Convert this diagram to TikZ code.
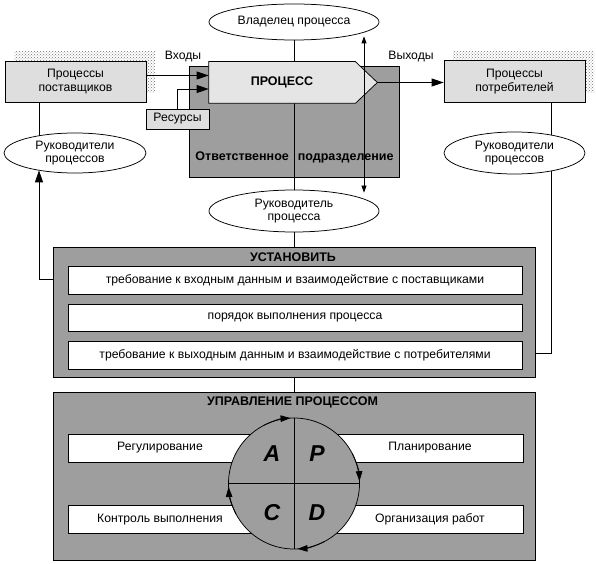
\documentclass[tikz,border=0pt]{standalone}
\usepackage{fontspec}
\setmainfont{Liberation Sans}
\usetikzlibrary{arrows.meta,calc,positioning,shapes.geometric,patterns}

\begin{document}
\begin{tikzpicture}[x=1pt,y=1pt,font=\fontsize{12.2}{13.5}\selectfont,line width=0.75pt]
\tikzset{
  svet/.style={draw=black,fill=black!13,inner sep=0pt,align=center},
  tyom/.style={draw=black,fill=black!38,inner sep=0pt},
  elips/.style={draw=black,fill=white,ellipse,inner sep=0pt,align=center},
  stroka/.style={draw=black,fill=white,inner sep=0pt,minimum height=27.5pt},
  ten/.style={pattern=crosshatch dots,pattern color=black!55},
  fl/.style={-{Triangle[length=12pt,width=8pt]}},
  fls/.style={-{Triangle[length=10pt,width=6.5pt]}},
  zag/.style={font=\fontsize{12.5}{14}\selectfont\bfseries},
  bukva/.style={font=\fontsize{23}{23}\selectfont\bfseries\itshape}
}
\useasboundingbox (0,0) rectangle (596,563);
% тени
\fill[ten] (14,470) rectangle (155,511);
\fill[ten] (453,470) rectangle (594,511);
% верхний уровень
\node[tyom,minimum width=210pt,minimum height=111pt] (podr) at (294,441.5) {};
\node[zag] (podrt) at (294.5,406) {Ответственное\hspace{9pt}подразделение};
\node[elips,minimum width=170pt,minimum height=36pt] (vlad) at (294,541) {Владелец процесса};
\node[elips,minimum width=170pt,minimum height=42pt] (ruk) at (294,352) {Руководитель\\процесса};
\draw (vlad) -- (ruk);
\node[minimum width=168pt,minimum height=41pt,inner sep=0pt] (proc) at (293,480.5) {};
\draw[fill=black!10] (proc.north west) -- ([xshift=-22pt]proc.north east) -- (proc.east)
  -- ([xshift=-22pt]proc.south east) -- (proc.south west) -- cycle;
\node[zag] (proct) at ($(proc)+(-11,0)$) {ПРОЦЕСС};
\draw[{Triangle[length=7pt,width=5pt]}-{Triangle[length=7pt,width=5pt]}]
  ([xshift=70pt,yshift=4pt]vlad.south) -- ([xshift=70pt,yshift=-3pt]ruk.north);
\node[svet,minimum width=141pt,minimum height=41pt] (post) at (75.5,481.5) {Процессы\\поставщиков};
\node[svet,minimum width=141pt,minimum height=42pt] (potr) at (514.5,481.5) {Процессы\\потребителей};
\node[svet,minimum width=63pt,minimum height=20pt] (res) at (177.5,444) {Ресурсы};
\node (vhody) at (183,506) {Входы};
\node (vyhody) at (411,506) {Выходы};
\draw[fl] ([yshift=6pt]post.east) -- ([yshift=6pt]post.east -| proc.west);
\draw[fl] (res.north) |- ([yshift=-6.5pt]proc.west);
\draw[fl] (proc.east) -- (proc.east -| potr.west);
\node[elips,minimum width=142pt,minimum height=40pt] (rukl) at (75,410) {Руководители\\процессов};
\node[elips,minimum width=141pt,minimum height=42pt] (rukp) at (514.5,410) {Руководители\\процессов};
\draw ([xshift=-36.5pt]post.south) -- ([xshift=-36pt,yshift=-3pt]rukl.north);
\draw ([xshift=36.5pt]potr.south) -- ([xshift=36.5pt,yshift=-3pt]rukp.north);
% установить
\node[tyom,minimum width=482pt,minimum height=130pt] (ust) at (294,251) {};
\node[zag] (ustt) at (293,306) {УСТАНОВИТЬ};
\node[stroka,minimum width=454pt] (tr1) at (295,282.5)
  {требование к входным данным и взаимодействие с поставщиками};
\node[stroka,minimum width=454pt,below=9pt of tr1] (tr2) {порядок выполнения процесса};
\node[stroka,minimum width=454pt,below=9.5pt of tr2] (tr3)
  {требование к выходным данным и взаимодействие с потребителями};
\draw (ruk) -- (ust);
\draw[fl] ([yshift=33pt]ust.west) -| ([xshift=-36pt,yshift=3pt]rukl.south);
\draw ([xshift=36.5pt,yshift=3pt]rukp.south) |- ([yshift=-41pt]ust.east);
% управление процессом
\node[tyom,minimum width=482pt,minimum height=168pt] (upr) at (294,87) {};
\node[zag] (uprt) at (292.5,161) {УПРАВЛЕНИЕ ПРОЦЕССОМ};
\draw (ust) -- (upr);
\node[stroka,minimum width=184pt,minimum height=28pt] (reg) at (160,115) {Регулирование};
\node[stroka,minimum width=184pt,minimum height=28pt] (kontr) at (160,43.5) {Контроль выполнения};
\node[stroka,minimum width=186pt,minimum height=28pt] (plan) at (430,115) {Планирование};
\node[stroka,minimum width=186pt,minimum height=28pt] (org) at (430,43.5) {Организация работ};
\node[circle,draw,fill=black!38,minimum size=131pt,inner sep=0pt] (pdca) at (294,79.5) {};
\draw (pdca.north) -- (pdca.south);
\draw (pdca.west) -- (pdca.east);
\foreach \a/\b in {118/93,27/2,-62/-87,208/183}
  \draw[fls] ($(pdca.center)+(\a:65.5pt)$) arc (\a:\b:65.5pt);
\node[bukva] (bA) at ($(pdca)+(-22,30)$) {A};
\node[bukva] (bP) at ($(pdca)+(23,30)$) {P};
\node[bukva] (bC) at ($(pdca)+(-22,-29)$) {C};
\node[bukva] (bD) at ($(pdca)+(23,-29)$) {D};
\end{tikzpicture}
\end{document}
